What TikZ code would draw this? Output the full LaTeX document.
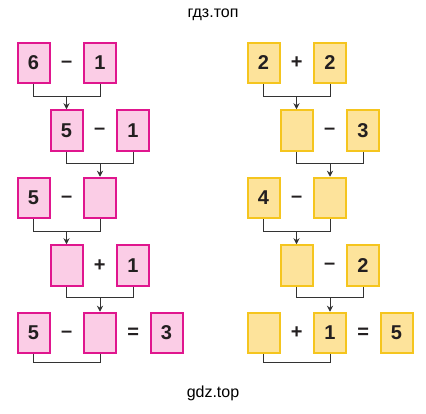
\documentclass[tikz,border=0pt]{standalone}
\usepackage{fontspec}
\setmainfont{Liberation Sans}
\usetikzlibrary{arrows.meta,calc}
\definecolor{pinkfill}{HTML}{FBCDE6}
\definecolor{pinkline}{HTML}{E0168E}
\definecolor{yelfill}{HTML}{FDE39B}
\definecolor{yelline}{HTML}{F5C51E}
\definecolor{conncol}{HTML}{333333}
\definecolor{txtcol}{HTML}{231F20}
\tikzset{
  numbox/.style={rectangle, minimum width=32pt, minimum height=40.5pt, inner sep=0pt, line width=2pt, font=\fontsize{20}{20}\selectfont\bfseries, text=txtcol},
  pbox/.style={numbox, draw=pinkline, fill=pinkfill},
  ybox/.style={numbox, draw=yelline, fill=yelfill},
  op/.style={inner sep=0pt, font=\fontsize{20}{20}\selectfont\bfseries, text=txtcol},
  conn/.style={draw=conncol, line width=1pt},
  arr/.style={conn, -{Stealth[length=6pt,width=6pt]}},
  caption/.style={inner sep=0pt, font=\fontsize{16}{16}\selectfont, text=black}
}
\begin{document}
\begin{tikzpicture}[x=1pt,y=-1pt]
\useasboundingbox (0,0) rectangle (426,413);
\fill[white] (0,0) rectangle (426,413);
\node[caption] (title) at (213,15) {гдз.топ};
\node[caption] (foot) at (213,393) {gdz.top};
% ---------- left column ----------
\node[pbox] (l1a) at (33.5,63) {6};
\node[op] (l1o) at (66.75,64) {–};
\node[pbox] (l1b) at (100,63) {1};
\node[pbox] (l2a) at (66.5,130.5) {5};
\node[op] (l2o) at (99.75,131.5) {–};
\node[pbox] (l2b) at (133,130.5) {1};
\node[pbox] (l3a) at (33.5,198) {5};
\node[op] (l3o) at (66.75,199) {–};
\node[pbox] (l3b) at (100,198) {};
\node[pbox] (l4a) at (66.5,265.5) {};
\node[op] (l4o) at (99.75,265.5) {+};
\node[pbox] (l4b) at (133,265.5) {1};
\node[pbox] (l5a) at (33.5,333) {5};
\node[op] (l5o) at (66.75,334) {–};
\node[pbox] (l5b) at (100,333) {};
\node[op] (l5e) at (133.25,333) {=};
\node[pbox] (l5c) at (166.5,333) {3};
% ---------- right column ----------
\node[ybox] (r1a) at (263.5,63) {2};
\node[op] (r1o) at (296.75,63) {+};
\node[ybox] (r1b) at (330,63) {2};
\node[ybox] (r2a) at (296.5,130.5) {};
\node[op] (r2o) at (329.75,131.5) {–};
\node[ybox] (r2b) at (363,130.5) {3};
\node[ybox] (r3a) at (263.5,198) {4};
\node[op] (r3o) at (296.75,199) {–};
\node[ybox] (r3b) at (330,198) {};
\node[ybox] (r4a) at (296.5,265.5) {};
\node[op] (r4o) at (329.75,266.5) {–};
\node[ybox] (r4b) at (363,265.5) {2};
\node[ybox] (r5a) at (263.5,333) {};
\node[op] (r5o) at (296.75,333) {+};
\node[ybox] (r5b) at (330,333) {1};
\node[op] (r5e) at (363.25,333) {=};
\node[ybox] (r5c) at (396.5,333) {5};
% ---------- connectors ----------
\foreach \c in {l,r}{
  \draw[conn] (\c1a.south) -- ++(0,12) coordinate (\c1p) -| (\c1b.south);
  \draw[arr] (\c1p -| \c2a.north) -- (\c2a.north);
  \draw[conn] (\c2a.south) -- ++(0,12) coordinate (\c2p) -| (\c2b.south);
  \draw[arr] (\c2p -| \c3b.north) -- (\c3b.north);
  \draw[conn] (\c3a.south) -- ++(0,12) coordinate (\c3p) -| (\c3b.south);
  \draw[arr] (\c3p -| \c4a.north) -- (\c4a.north);
  \draw[conn] (\c4a.south) -- ++(0,11) coordinate (\c4p) -| (\c4b.south);
  \draw[arr] (\c4p -| \c5b.north) -- (\c5b.north);
  \draw[conn] (\c5a.south) -- ++(0,8) -| (\c5b.south);
}
\end{tikzpicture}
\end{document}
